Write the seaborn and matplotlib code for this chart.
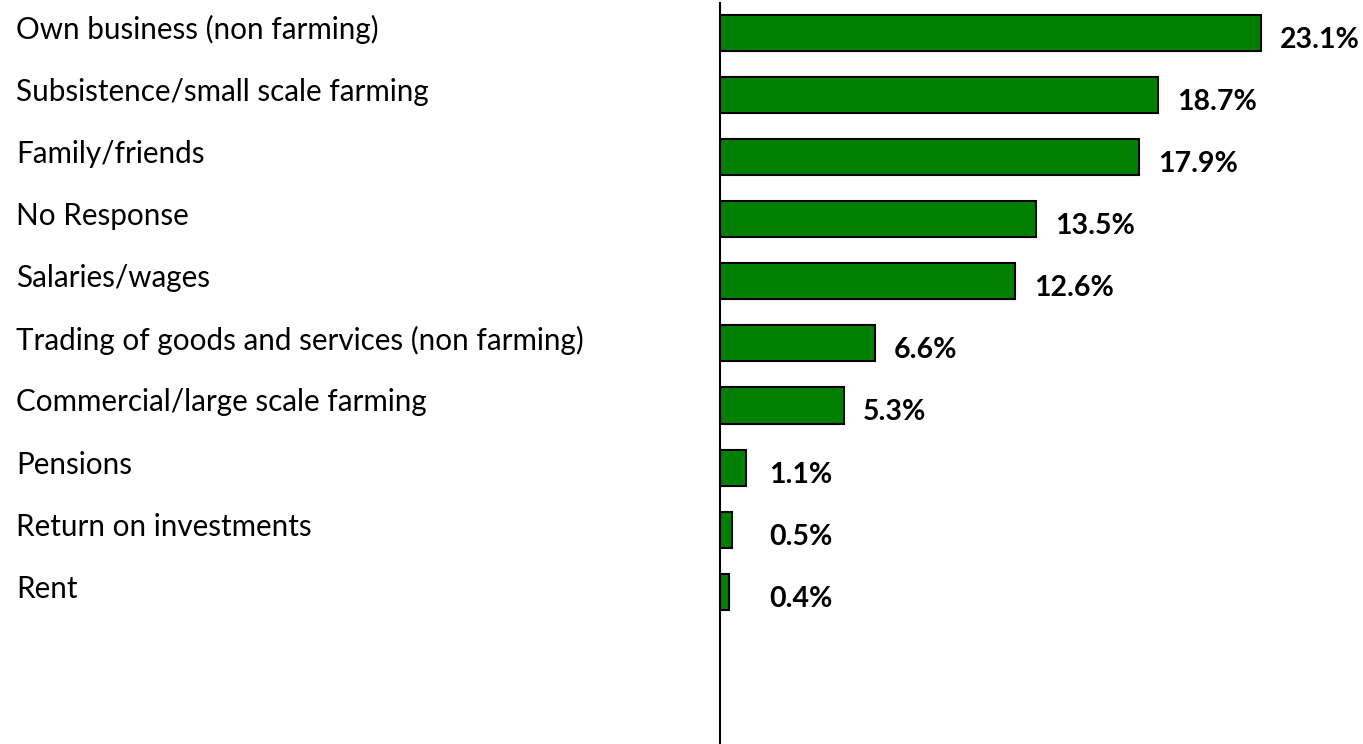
import matplotlib
matplotlib.use("Agg")
import matplotlib.pyplot as plt
import matplotlib.transforms as mtransforms
import seaborn as sns
import pandas as pd

categories = [
    "Own business (non farming)",
    "Subsistence/small scale farming",
    "Family/friends",
    "No Response",
    "Salaries/wages",
    "Trading of goods and services (non farming)",
    "Commercial/large scale farming",
    "Pensions",
    "Return on investments",
    "Rent",
]
values = [23.1, 18.7, 17.9, 13.5, 12.6, 6.6, 5.3, 1.1, 0.5, 0.4]
value_labels = ["23.1%", "18.7%", "17.9%", "13.5%", "12.6%", "6.6%", "5.3%", "1.1%", "0.5%", "0.4%"]

df = pd.DataFrame({"source": categories, "share": values})

sns.set_style("white")
plt.rcParams["font.family"] = ["Lato", "DejaVu Sans"]

fig = plt.figure(figsize=(13.63, 7.44), dpi=100)
ax = fig.add_axes([720 / 1363, 0.0, 1 - 720 / 1363, 741 / 744])

sns.barplot(data=df, x="share", y="source", orient="h", color="#008000",
            saturation=1, width=0.58, edgecolor="black", linewidth=1.5, ax=ax)

ax.set_xlim(0, 27.45)
ax.set_ylim(11.45, -0.48)

for s in ["top", "right", "bottom"]:
    ax.spines[s].set_visible(False)
ax.spines["left"].set_color("black")
ax.spines["left"].set_linewidth(1.5)
ax.set_xticks([])
ax.set_yticks([])
ax.set_xlabel("")
ax.set_ylabel("")

# Category names, left-aligned near the figure edge
name_tr = mtransforms.blended_transform_factory(fig.transFigure, ax.transData)
shift_up = mtransforms.ScaledTranslation(0, 3 / 100, fig.dpi_scale_trans)
for i, name in enumerate(categories):
    ax.text(16 / 1363, i, name, transform=name_tr + shift_up, ha="left",
            va="center", fontsize=21.3, color="black")

# Bold value labels to the right of each bar
shift_down = mtransforms.ScaledTranslation(0, -7 / 100, fig.dpi_scale_trans)
for i, (v, lab) in enumerate(zip(values, value_labels)):
    ax.text(max(v + 0.8, 2.1), i, lab, transform=ax.transData + shift_down,
            ha="left", va="center", fontsize=20.5, fontweight="bold", color="black")

fig.savefig("out.png", dpi=100)
